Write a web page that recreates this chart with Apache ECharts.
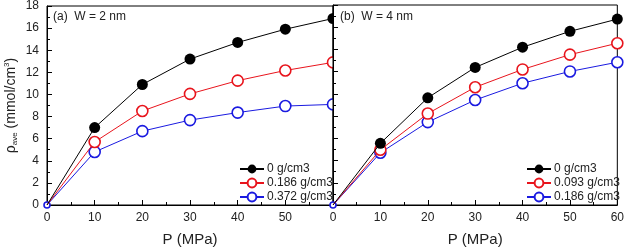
<!DOCTYPE html>
<html>
<head>
<meta charset="utf-8">
<script src="https://cdn.jsdelivr.net/npm/echarts@6/dist/echarts.min.js"></script>
<style>
  html, body { margin: 0; padding: 0; background: #fff; }
  #chart { width: 627px; height: 252px; }
</style>
</head>
<body>
<div id="chart"></div>
<script>
// pressure points (MPa)
var pressure = [0, 10, 20, 30, 40, 50, 60]

// (a) W = 2 nm
var namesA = ['0 g/cm3', '0.186 g/cm3', '0.372 g/cm3']
var a0 = [0, 7.0, 10.9, 13.2, 14.7, 15.9, 16.87]
var a1 = [0, 5.7, 8.5, 10.05, 11.25, 12.17, 12.9]
var a2 = [0, 4.8, 6.68, 7.68, 8.36, 8.95, 9.1]

// (b) W = 4 nm  (trailing space keeps legend colours apart from panel a)
var namesB = ['0 g/cm3 ', '0.093 g/cm3', '0.186 g/cm3 ']
var b0 = [0, 5.55, 9.65, 12.38, 14.2, 15.63, 16.73]
var b1 = [0, 4.97, 8.23, 10.6, 12.2, 13.53, 14.56]
var b2 = [0, 4.7, 7.46, 9.45, 10.96, 12.02, 12.85]

var colors = ['#000000', '#e8141c', '#1a1ae0']
var font = 'Arial, "Liberation Sans", sans-serif'

// origin markers sit in the frame corner and are mostly clipped in the original
function pairs(ys, k) {
  return pressure.map(function (p, i) {
    if (i === 0) return { value: [p, ys[i]], symbolSize: k === 2 ? 6 : 0 }
    return [p, ys[i]]
  })
}

// panel b sits on top of panel a, so a's markers at 60 MPa are cut in half
function mkSeries(name, ys, idx, k) {
  var filled = k === 0
  return {
    name: name,
    type: 'line',
    xAxisIndex: idx,
    yAxisIndex: idx,
    data: pairs(ys, k),
    symbol: 'circle',
    symbolSize: 11,
    lineStyle: { color: colors[k], width: 1 },
    itemStyle: {
      color: filled ? '#000' : '#fff',
      borderColor: colors[k],
      borderWidth: filled ? 0 : 1.6
    },
    emphasis: { disabled: true },
    animation: false,
    z: (idx ? 12 : 1) + 2 - k
  }
}

function xAx(idx) {
  return {
    type: 'value', gridIndex: idx, min: 0, max: 60, interval: 10,
    z: idx ? 11 : 0,
    name: 'P (MPa)', nameLocation: 'middle', nameGap: 27,
    nameTextStyle: { fontFamily: font, fontSize: 15, color: '#222' },
    axisLine: { lineStyle: { color: '#000' } },
    axisTick: { inside: true, length: 5, lineStyle: { color: '#000' } },
    minorTick: { show: true, splitNumber: 2, length: 3, lineStyle: { color: '#000' } },
    axisLabel: {
      fontFamily: font, fontSize: 12, color: '#222', margin: 7,
      formatter: function (v) { return idx || v < 60 ? String(v) : '' }
    },
    splitLine: { show: false }
  }
}

function yAx(idx) {
  var ax = {
    type: 'value', gridIndex: idx, min: 0, max: 18, interval: 2,
    z: idx ? 11 : 0,
    axisLine: { lineStyle: { color: '#000' } },
    axisTick: { inside: true, length: 5, lineStyle: { color: '#000' } },
    minorTick: { show: true, splitNumber: 2, length: 3, lineStyle: { color: '#000' } },
    axisLabel: { show: !idx, fontFamily: font, fontSize: 12, color: '#222', margin: 8 },
    splitLine: { show: false }
  }
  if (!idx) {
    ax.name = '{r|ρ}{s|ave}{r| (mmol/cm}{p|3}{r|)}'
    ax.nameLocation = 'middle'
    ax.nameGap = 28
    ax.nameTextStyle = {
      rich: {
        r: { fontFamily: font, fontSize: 14, color: '#222' },
        s: { fontFamily: font, fontSize: 8, color: '#222', padding: [8, 0, 0, 0] },
        p: { fontFamily: font, fontSize: 8, color: '#222', padding: [0, 0, 8, 0] }
      }
    }
  }
  return ax
}

function mkLegend(names, left, z) {
  return {
    data: names,
    orient: 'vertical',
    left: left,
    top: 158,
    z: z,
    itemWidth: 24,
    itemHeight: 11,
    itemGap: 2,
    selectedMode: false,
    textStyle: { fontFamily: font, fontSize: 12, color: '#222', padding: [0, 0, 0, -2] },
    formatter: function (n) { return n.trim() }
  }
}

var chart = echarts.init(document.getElementById('chart'))
chart.setOption({
  backgroundColor: '#fff',
  animation: false,
  grid: [
    { left: 47, right: 294, top: 5, bottom: 44, show: true, borderColor: '#000', borderWidth: 1 },
    { left: 333, right: 7, top: 5, bottom: 44, show: true, z: 10,
      backgroundColor: '#fff', borderColor: '#000', borderWidth: 1 }
  ],
  xAxis: [xAx(0), xAx(1)],
  yAxis: [yAx(0), yAx(1)],
  legend: [mkLegend(namesA, 234, 5), mkLegend(namesB, 521, 16)],
  graphic: [
    { type: 'text', left: 53, top: 11, z: 5, style: { text: '(a)  W = 2 nm', font: '12px ' + font, fill: '#222' } },
    { type: 'text', left: 340, top: 11, z: 16, style: { text: '(b)  W = 4 nm', font: '12px ' + font, fill: '#222' } }
  ],
  series: [
    mkSeries(namesA[0], a0, 0, 0),
    mkSeries(namesA[1], a1, 0, 1),
    mkSeries(namesA[2], a2, 0, 2),
    mkSeries(namesB[0], b0, 1, 0),
    mkSeries(namesB[1], b1, 1, 1),
    mkSeries(namesB[2], b2, 1, 2)
  ]
})
</script>
</body>
</html>
